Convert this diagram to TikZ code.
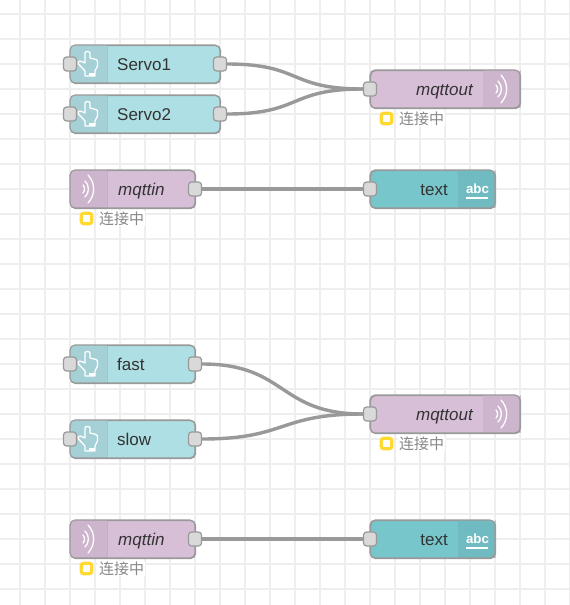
\documentclass[tikz,border=0pt]{standalone}
\usepackage{fontspec}
\setmainfont{Liberation Sans}
\newfontfamily\cjkfont{Noto Sans CJK SC}
\definecolor{gridc}{HTML}{EEEEEE}
\definecolor{edgec}{HTML}{999999}
\definecolor{portc}{HTML}{D9D9D9}
\definecolor{injectc}{HTML}{AEDFE4}
\definecolor{injecti}{HTML}{A5D1D6}
\definecolor{mqttc}{HTML}{D8BFD8}
\definecolor{mqtti}{HTML}{CDB5CD}
\definecolor{textc}{HTML}{77C6CC}
\definecolor{texti}{HTML}{70BBC1}
\definecolor{yellowc}{HTML}{FFD92F}
\definecolor{labelc}{HTML}{333333}
\definecolor{statusc}{HTML}{888888}
\tikzset{
  x=1pt,y=-1pt,
  body/.style={draw=edgec,line width=1.1pt,rounded corners=5pt,minimum height=38pt,inner sep=0pt,anchor=north west},
  portbox/.style={draw=edgec,fill=portc,line width=1.2pt,rounded corners=3pt,minimum width=13pt,minimum height=14pt,inner sep=0pt},
  wire/.style={draw=edgec,line width=3.4pt},
  lbl/.style={inner sep=0pt,text=labelc,font=\fontsize{17}{18}\selectfont},
  iconline/.style={draw=white,line width=1.3pt,line cap=round,line join=round},
  statusbox/.style={draw=yellowc,fill=white,line width=3.2pt,rounded corners=2.5pt,minimum size=10.5pt,inner sep=0pt},
  statustxt/.style={fill=white,inner sep=1pt,text=statusc,font=\cjkfont\fontsize{15}{16}\selectfont}
}
% #1 name, #2 x, #3 y, #4 width, #5 fill, #6 icon fill, #7 icon left edge, #8 icon width
\newcommand{\flowbody}[8]{%
  \node[body,fill=#5,minimum width=#4pt] (#1) at (#2,#3) {};
  \begin{scope}
    \clip[rounded corners=5pt] (#2,#3) rectangle ++(#4,38);
    \fill[#6] (#7,#3) rectangle ++(#8,38);
  \end{scope}
  \draw[edgec!80,line width=.7pt,opacity=.6] (#7,#3) ++(#8,0) -- ++(0,38);
  \draw[edgec,line width=1.1pt,rounded corners=5pt] (#2,#3) rectangle ++(#4,38);
}
\newcommand{\handicon}[2]{%
  \begin{scope}[shift={(#1,#2)}]
    \draw[iconline] (15,-1) -- (15,-11) .. controls (15,-13) and (20,-13) .. (20,-11) -- (20,-6) -- (26,-4.5) .. controls (27.5,-4) and (27.5,-3) .. (27.5,-2) -- (27.5,2) -- (25,7) -- (25,12) -- (15,12) -- (15,7) -- (8.5,0) .. controls (7,-3) and (10,-4) .. (15,-1);
    \fill[white] (19,9) rectangle (25,12);
  \end{scope}}
\newcommand{\waveicon}[2]{%
  \begin{scope}[shift={(#1,#2)}]
    \draw[iconline] (13,-4) .. controls (15,-2) and (15,2) .. (13,4);
    \draw[iconline] (15,-8) .. controls (19.5,-4) and (19.5,4) .. (15,8);
    \draw[iconline] (18,-14) .. controls (25.5,-6) and (25.5,6) .. (18,14);
  \end{scope}}
\newcommand{\abcicon}[2]{%
  \node[inner sep=0pt,anchor=base,text=white,font=\bfseries\fontsize{13.3}{14}\selectfont] (#1) at (#2) {abc};
  \fill[white] (#1.base west) ++(0,4) rectangle ++(22.5,1.8);}
\begin{document}
\begin{tikzpicture}
\useasboundingbox (0,0) rectangle (570,605);
\fill[white] (0,0) rectangle (570,605);
\foreach \i in {0,...,22} \draw[gridc,line width=2pt] ({20+25*\i},0) -- ++(0,605);
\foreach \i in {0,...,23} \draw[gridc,line width=2pt] (0,{14+25*\i}) -- ++(570,0);

% --- group one
\flowbody{sa}{70}{45}{150}{injectc}{injecti}{70}{37}
\handicon{70}{64}
\node[lbl,anchor=base west] (sal) at (117,70) {Servo1};
\flowbody{sb}{70}{95}{150}{injectc}{injecti}{70}{37}
\handicon{70}{114}
\node[lbl,anchor=base west] (sbl) at (117,120) {Servo2};
\flowbody{moa}{370}{70}{150}{mqttc}{mqtti}{483}{37}
\waveicon{483}{89}
\node[lbl,anchor=base east] (moal) at (473,95) {\itshape mqttout};
\flowbody{ta}{370}{170}{125}{textc}{texti}{458}{37}
\abcicon{abca}{477.5,193}
\node[lbl,anchor=base east] (tal) at (448,195) {text};
\flowbody{mia}{70}{170}{125}{mqttc}{mqtti}{70}{37}
\waveicon{70}{189}
\node[lbl,anchor=base west] (mial) at (118,195) {\itshape mqttin};

% --- group two
\flowbody{sc}{70}{345}{125}{injectc}{injecti}{70}{37}
\handicon{70}{364}
\node[lbl,anchor=base west] (scl) at (117,370) {fast};
\flowbody{sd}{70}{420}{125}{injectc}{injecti}{70}{37}
\handicon{70}{439}
\node[lbl,anchor=base west] (sdl) at (117,445) {slow};
\flowbody{mob}{370}{395}{150}{mqttc}{mqtti}{483}{37}
\waveicon{483}{414}
\node[lbl,anchor=base east] (mobl) at (473,420) {\itshape mqttout};
\flowbody{tb}{370}{520}{125}{textc}{texti}{458}{37}
\abcicon{abcb}{477.5,543}
\node[lbl,anchor=base east] (tbl) at (448,545) {text};
\flowbody{mib}{70}{520}{125}{mqttc}{mqtti}{70}{37}
\waveicon{70}{539}
\node[lbl,anchor=base west] (mibl) at (118,545) {\itshape mqttin};

% --- status
\node[statustxt,anchor=west] (st1) at (398,118.5) {连接中};
\node[statusbox] (sq1) at (386.5,118.5) {};
\node[statustxt,anchor=west] (st2) at (98,218.5) {连接中};
\node[statusbox] (sq2) at (86.5,218.5) {};
\node[statustxt,anchor=west] (st3) at (398,443.5) {连接中};
\node[statusbox] (sq3) at (386.5,443.5) {};
\node[statustxt,anchor=west] (st4) at (98,568.5) {连接中};
\node[statusbox] (sq4) at (86.5,568.5) {};

% --- ports
\foreach \n/\px/\py in {sai/70/64,sao/220/64,sbi/70/114,sbo/220/114,moai/370/89,tai/370/189,miao/195/189,
  sci/70/364,sco/195/364,sdi/70/439,sdo/195/439,mobi/370/414,tbi/370/539,mibo/195/539}
  \node[portbox] (\n) at (\px,\py) {};

% --- wires
\draw[wire] (sao.east) .. controls +(75,0) and +(-75,0) .. (moai.west);
\draw[wire] (sbo.east) .. controls +(75,0) and +(-75,0) .. (moai.west);
\draw[wire] (miao.east) -- (tai.west);
\draw[wire] (sco.east) .. controls +(85,0) and +(-85,0) .. (mobi.west);
\draw[wire] (sdo.east) .. controls +(85,0) and +(-85,0) .. (mobi.west);
\draw[wire] (mibo.east) -- (tbi.west);
\end{tikzpicture}
\end{document}
